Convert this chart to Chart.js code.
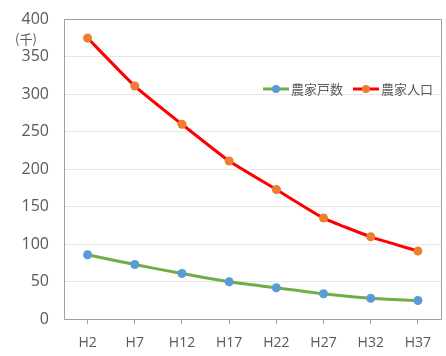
<!DOCTYPE html>
<html>
<head>
<meta charset="utf-8">
<script src="https://cdn.jsdelivr.net/npm/chart.js@4.4.0/dist/chart.umd.min.js"></script>
<style>
    html, body { margin: 0; padding: 0; background: #fff; }
</style>
</head>
<body>
<canvas id="line-chart-noka" width="446" height="356"></canvas>
<script>
// 農家戸数・農家人口の推移 (千)

var years = ['H2', 'H7', 'H12', 'H17', 'H22', 'H27', 'H32', 'H37'];
var nokaKosu = [86, 73, 61, 50, 42, 34, 28, 25];
var nokaJinko = [375, 311, 260, 211, 173, 135, 110, 91];
var yTicks = [0, 50, 100, 150, 200, 250, 300, 350, 400];

var textColor = '#595959';
var jpFont = '"Noto Sans CJK JP", "Noto Sans", sans-serif';

// 枠線・単位・凡例を描画するプラグイン
var frameAndLegend = {
    id: 'frameAndLegend',
    beforeDatasetsDraw: function (chart) {
        let ctx = chart.ctx;
        let a = chart.chartArea;
        ctx.save();
        ctx.strokeStyle = '#a0a0a0';
        ctx.lineWidth = 1;
        ctx.beginPath();
        ctx.moveTo(Math.round(a.left) + 0.5, Math.round(a.top) + 0.5);
        ctx.lineTo(Math.round(a.right) - 0.5, Math.round(a.top) + 0.5);
        ctx.lineTo(Math.round(a.right) - 0.5, Math.round(a.bottom) + 0.5);
        ctx.lineTo(Math.round(a.left) + 0.5, Math.round(a.bottom) + 0.5);
        ctx.closePath();
        ctx.stroke();
        ctx.restore();
    },
    afterDraw: function (chart) {
        let ctx = chart.ctx;
        ctx.save();

        // 単位
        ctx.fillStyle = textColor;
        ctx.font = '13px ' + jpFont;
        ctx.textAlign = 'left';
        ctx.textBaseline = 'middle';
        ctx.fillText('(千)', 15, 39);

        // 凡例
        let items = [
            { ds: chart.data.datasets[0], x: 263 },
            { ds: chart.data.datasets[1], x: 353 }
        ];
        let y = 89;
        items.forEach(function (item) {
            ctx.strokeStyle = item.ds.borderColor;
            ctx.lineWidth = 3;
            ctx.beginPath();
            ctx.moveTo(item.x, y);
            ctx.lineTo(item.x + 26, y);
            ctx.stroke();
            ctx.fillStyle = item.ds.pointBackgroundColor;
            ctx.beginPath();
            ctx.arc(item.x + 13, y, 4, 0, Math.PI * 2);
            ctx.fill();
            ctx.fillStyle = textColor;
            ctx.font = '13px ' + jpFont;
            ctx.textAlign = 'left';
            ctx.textBaseline = 'middle';
            ctx.fillText(item.ds.label, item.x + 28, y);
        });
        ctx.restore();
    }
};

let lineChartData = {
    labels: years,
    datasets: [{
        label: '農家戸数',
        data: nokaKosu,
        borderColor: '#70ad47',
        borderWidth: 3,
        pointRadius: 4.5,
        pointBackgroundColor: '#5b9bd5',
        pointBorderColor: '#5b9bd5',
        pointBorderWidth: 0,
        tension: 0.25
    }, {
        label: '農家人口',
        data: nokaJinko,
        borderColor: '#ff0000',
        borderWidth: 3,
        pointRadius: 4.5,
        pointBackgroundColor: '#ed7d31',
        pointBorderColor: '#ed7d31',
        pointBorderWidth: 0,
        tension: 0.15
    }]
};

let lineChartOptions = {
    responsive: false,
    animation: false,
    layout: {
        padding: { top: 19.3, right: 1, bottom: 0, left: 0 }
    },
    scales: {
        x: {
            offset: true,
            border: { display: false },
            grid: {
                drawOnChartArea: false,
                drawTicks: true,
                tickLength: 5,
                color: '#a0a0a0'
            },
            ticks: {
                color: textColor,
                font: { family: '"Open Sans", sans-serif', size: 14 },
                padding: 10,
                maxRotation: 0,
                autoSkip: false
            },
            afterFit: function (scale) {
                scale.height = 36.7;
                scale.paddingLeft = 0;
                scale.paddingRight = 0;
            }
        },
        y: {
            min: 0,
            max: 400,
            border: { display: false },
            grid: {
                drawTicks: false,
                color: '#e6e6e6'
            },
            afterBuildTicks: function (scale) {
                scale.ticks = yTicks.map(function (v) { return { value: v }; });
            },
            ticks: {
                color: textColor,
                font: { family: '"Open Sans", sans-serif', size: 16 },
                padding: 15
            },
            afterFit: function (scale) {
                scale.width = 64;
                scale.paddingTop = 0;
                scale.paddingBottom = 0;
            }
        }
    },
    plugins: {
        legend: { display: false },
        tooltip: { enabled: false }
    }
};

let lineCtx = document.getElementById('line-chart-noka').getContext('2d');

new Chart(lineCtx, {
    type: 'line',
    data: lineChartData,
    options: lineChartOptions,
    plugins: [frameAndLegend]
});
</script>
</body>
</html>
